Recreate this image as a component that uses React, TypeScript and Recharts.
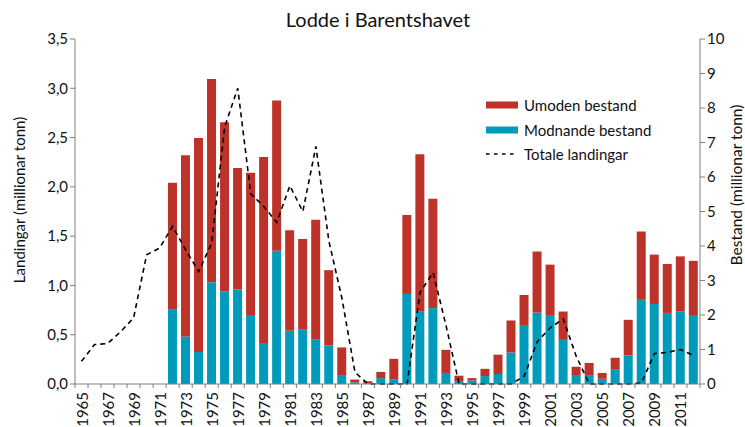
import React from 'react';
import {
  ComposedChart,
  Bar,
  Line,
  XAxis,
  YAxis,
} from 'recharts';

// år 1965-2012
const years = [
  '1965', '1966', '1967', '1968', '1969', '1970', '1971', '1972', '1973', '1974',
  '1975', '1976', '1977', '1978', '1979', '1980', '1981', '1982', '1983', '1984',
  '1985', '1986', '1987', '1988', '1989', '1990', '1991', '1992', '1993', '1994',
  '1995', '1996', '1997', '1998', '1999', '2000', '2001', '2002', '2003', '2004',
  '2005', '2006', '2007', '2008', '2009', '2010', '2011', '2012',
];

// Modnande bestand (millionar tonn, høgre akse)
const modnande = [
  null, null, null, null, null, null, null, 2.17, 1.38, 0.93,
  2.95, 2.69, 2.74, 2.0, 1.19, 3.86, 1.54, 1.57, 1.3, 1.12,
  0.26, 0.05, 0.02, 0.17, 0.14, 2.61, 2.11, 2.2, 0.32, 0.08,
  0.1, 0.23, 0.29, 0.91, 1.71, 2.07, 2.0, 1.28, 0.26, 0.26,
  0.15, 0.43, 0.83, 2.44, 2.32, 2.06, 2.11, 2.0,
];

// Umoden bestand (millionar tonn, høgre akse)
const umoden = [
  null, null, null, null, null, null, null, 3.66, 5.25, 6.2,
  5.89, 4.9, 3.52, 4.12, 5.39, 4.36, 2.92, 2.63, 3.46, 2.18,
  0.8, 0.08, 0.06, 0.18, 0.59, 2.29, 4.55, 3.17, 0.67, 0.16,
  0.07, 0.21, 0.56, 0.93, 0.87, 1.77, 1.46, 0.82, 0.24, 0.35,
  0.17, 0.33, 1.03, 1.98, 1.43, 1.42, 1.59, 1.57,
];

// Totale landingar (millionar tonn, venstre akse)
const landingar = [
  0.23, 0.4, 0.41, 0.53, 0.67, 1.31, 1.38, 1.6, 1.36, 1.14,
  1.43, 2.61, 3.0, 1.93, 1.8, 1.64, 2.01, 1.75, 2.41, 1.45,
  0.87, 0.12, 0, 0, 0, 0, 0.93, 1.13, 0.59, 0,
  0, 0, 0, 0, 0.08, 0.43, 0.57, 0.66, 0.28, 0,
  0, 0, 0, 0.01, 0.31, 0.32, 0.35, 0.29,
];

const leftTicks = [0, 0.5, 1, 1.5, 2, 2.5, 3, 3.5];
const rightTicks = [0, 1, 2, 3, 4, 5, 6, 7, 8, 9, 10];

const data = years.map((year, i) => ({
  year,
  modnande: modnande[i],
  umoden: umoden[i],
  landingar: landingar[i],
}));

const RED = '#be3329';
const TEAL = '#009bbb';
const AXIS = '#808080';
const FONT = 'Lato, sans-serif';
const BAND = 625 / years.length;

const YearTick = (props: any) => {
  const { x, y, index, payload } = props;
  const showLabel = index % 2 === 0;
  return (
    <g>
      <line x1={x - BAND / 2} x2={x - BAND / 2} y1={y - 8} y2={y - 4} stroke={AXIS} />
      {index === years.length - 1 && (
        <line x1={x + BAND / 2} x2={x + BAND / 2} y1={y - 8} y2={y - 4} stroke={AXIS} />
      )}
      {showLabel && (
        <text
          x={x}
          y={y}
          transform={`rotate(-90 ${x} ${y})`}
          textAnchor="end"
          dominantBaseline="central"
          fontSize={15}
          fontFamily={FONT}
          fill="#111"
        >
          {payload.value}
        </text>
      )}
    </g>
  );
};

const AxisTitle = ({ x, y, text, size }: { x: number; y: number; text: string; size: number }) => (
  <text
    x={x}
    y={y}
    transform={`rotate(-90 ${x} ${y})`}
    textAnchor="middle"
    dominantBaseline="central"
    fontSize={size}
    fontFamily={FONT}
    fill="#111"
  >
    {text}
  </text>
);

const legendRows = [
  { label: 'Umoden bestand', kind: 'bar', color: RED },
  { label: 'Modnande bestand', kind: 'bar', color: TEAL },
  { label: 'Totale landingar', kind: 'line', color: '#000' },
];

export default function App() {
  return (
    <div style={{ position: 'absolute', left: 0, top: 0, width: 745, height: 427, background: '#fff' }}>
      <div
        style={{
          position: 'absolute',
          left: 0,
          width: 756,
          top: 7,
          textAlign: 'center',
          fontFamily: FONT,
          fontSize: 20,
          color: '#111',
        }}
      >
        Lodde i Barentshavet
      </div>
      <ComposedChart
        width={745}
        height={427}
        data={data}
        margin={{ top: 39, right: 0, left: 0, bottom: 0 }}
        barCategoryGap="14%"
      >
        <XAxis
          dataKey="year"
          height={43}
          interval={0}
          tickLine={false}
          tickSize={4}
          tickMargin={4}
          stroke={AXIS}
          tick={<YearTick />}
        />
        <YAxis
          yAxisId="left"
          orientation="left"
          width={75}
          domain={[0, 3.5]}
          ticks={leftTicks}
          tickFormatter={(v) => v.toFixed(1).replace('.', ',')}
          stroke={AXIS}
          tickSize={5}
          tick={{ fill: '#111', fontSize: 15, fontFamily: FONT }}
          label={() => <AxisTitle x={19} y={200} text="Landingar (millionar tonn)" size={15} />}
        />
        <YAxis
          yAxisId="right"
          orientation="right"
          width={45}
          domain={[0, 10]}
          ticks={rightTicks}
          stroke={AXIS}
          tickSize={5}
          tick={{ fill: '#111', fontSize: 15, fontFamily: FONT }}
          label={() => <AxisTitle x={736} y={185} text="Bestand (millionar tonn)" size={15.5} />}
        />
        <Bar
          yAxisId="right"
          dataKey="modnande"
          name="Modnande bestand"
          stackId="bestand"
          fill={TEAL}
          isAnimationActive={false}
        />
        <Bar
          yAxisId="right"
          dataKey="umoden"
          name="Umoden bestand"
          stackId="bestand"
          fill={RED}
          isAnimationActive={false}
        />
        <Line
          yAxisId="left"
          dataKey="landingar"
          name="Totale landingar"
          type="linear"
          stroke="#000"
          strokeWidth={1.6}
          strokeDasharray="5 4"
          dot={false}
          activeDot={false}
          isAnimationActive={false}
        />
      </ComposedChart>
      <div
        style={{
          position: 'absolute',
          left: 486,
          top: 93,
          fontFamily: FONT,
          fontSize: 15,
          color: '#111',
        }}
      >
        {legendRows.map((r) => (
          <div key={r.label} style={{ display: 'flex', alignItems: 'center', height: 24.5 }}>
            <svg width={38} height={10}>
              {r.kind === 'bar' ? (
                <rect x={0} y={1.5} width={32} height={7} fill={r.color} />
              ) : (
                <line x1={0} x2={32} y1={5} y2={5} stroke="#000" strokeWidth={1.6} strokeDasharray="3.5 4.5" />
              )}
            </svg>
            <span>{r.label}</span>
          </div>
        ))}
      </div>
    </div>
  );
}
